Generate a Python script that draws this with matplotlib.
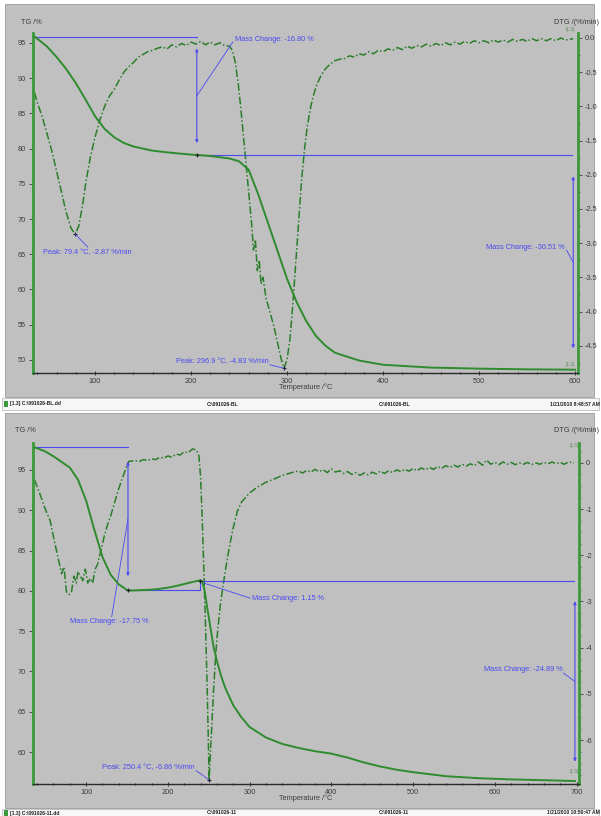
import matplotlib
matplotlib.use("Agg")
import matplotlib.pyplot as plt
from matplotlib.patches import Rectangle
from matplotlib.ticker import MultipleLocator, FormatStrFormatter

plt.rcParams['font.family'] = ['Liberation Sans', 'DejaVu Sans']
plt.rcParams['axes.unicode_minus'] = False

# ---------------- data: top run ----------------
top_tg_T = [37, 40, 50, 60, 70, 80, 90, 100, 110, 120, 130, 140, 150, 160, 180, 200, 206,
            220, 240, 250, 260, 270, 280, 290, 300, 310, 320, 330, 340, 350, 375, 400,
            450, 500, 550, 600]
top_tg = [95.9, 95.6, 94.5, 93.0, 91.3, 89.3, 87.0, 84.6, 82.8, 81.6, 80.8, 80.3, 80.0, 79.7,
          79.4, 79.15, 79.1, 78.95, 78.6, 78.2, 77.0, 73.5, 69.5, 65.5, 61.5, 58.2, 55.5,
          53.4, 52.0, 51.0, 49.9, 49.3, 48.9, 48.75, 48.65, 48.6]

top_dtg_T = [37, 40, 45, 50, 55, 60, 65, 70, 75, 79.4, 83, 87, 90, 95, 100, 105, 110, 115,
             120, 125, 130, 135, 140, 145, 150, 155, 160, 165, 170, 175, 180, 185, 190, 195,
             200, 205, 210, 215, 220, 225, 230, 235, 240, 243, 246, 249, 252, 255, 258, 261,
             263, 265, 267, 269, 271, 273, 275, 278, 282, 286, 290, 294, 296.9, 300, 303,
             306, 309, 312, 315, 318, 321, 324, 327, 331, 335, 340, 345, 350, 355,
             360, 365, 370, 375, 380, 385, 390, 395, 400, 405, 410, 415, 420, 425, 430, 435,
             440, 445, 450, 455, 460, 465, 470, 475, 480, 485, 490, 495, 500, 505, 510, 515,
             520, 525, 530, 535, 540, 545, 550, 555, 560, 565, 570, 575, 580, 585, 590, 598]
top_dtg = [-0.80, -0.95, -1.15, -1.40, -1.65, -1.95, -2.25, -2.55, -2.78, -2.87, -2.75, -2.45,
           -2.15, -1.75, -1.45, -1.20, -1.00, -0.85, -0.75, -0.62, -0.50, -0.42, -0.36, -0.28,
           -0.24, -0.20, -0.18, -0.15, -0.13, -0.16, -0.10, -0.13, -0.08, -0.11, -0.06, -0.09,
           -0.05, -0.10, -0.06, -0.10, -0.07, -0.11, -0.12, -0.18, -0.35, -0.65, -1.05, -1.50,
           -1.95, -2.40, -2.70, -3.10, -2.95, -3.40, -3.25, -3.60, -3.50, -3.80, -4.00, -4.20,
           -4.45, -4.70, -4.83, -4.70, -4.40, -3.90, -3.30, -2.70, -2.10, -1.65, -1.30, -1.05,
           -0.86, -0.68, -0.56, -0.45, -0.38, -0.33, -0.31,
           -0.30, -0.26, -0.28, -0.23, -0.25, -0.20, -0.23, -0.18, -0.20, -0.16, -0.18, -0.14,
           -0.17, -0.12, -0.15, -0.11, -0.13, -0.09, -0.12, -0.08, -0.11, -0.07, -0.10, -0.06,
           -0.09, -0.05, -0.08, -0.04, -0.07, -0.04, -0.07, -0.03, -0.06, -0.03, -0.06, -0.02,
           -0.05, -0.02, -0.05, -0.01, -0.04, -0.01, -0.04, -0.01, -0.04, 0.00, -0.03, -0.01]

top_peaks_T = [79.4, 296.9]
top_peaks_dtg = [-2.87, -4.83]
top_mass_changes = [-16.80, -30.51]
top_step_T = [37, 206, 598]

# ---------------- data: bottom run ----------------
bot_tg_T = [37, 40, 50, 60, 70, 80, 90, 100, 110, 120, 130, 140, 151, 160, 170, 180, 190,
            200, 210, 220, 230, 239, 242, 245, 248, 252, 256, 260, 265, 270, 280, 290, 300,
            320, 340, 360, 380, 400, 420, 440, 460, 480, 500, 540, 580, 620, 660, 698]
bot_tg = [97.8, 97.7, 97.3, 96.7, 96.0, 95.3, 93.8, 91.2, 87.6, 84.2, 82.0, 80.8, 80.05,
          80.05, 80.1, 80.15, 80.25, 80.4, 80.6, 80.85, 81.1, 81.3, 81.2, 80.0, 78.0, 75.5,
          73.0, 71.3, 69.5, 68.0, 65.8, 64.3, 63.1, 61.8, 61.0, 60.5, 60.1, 59.8, 59.3, 58.7,
          58.2, 57.8, 57.5, 57.0, 56.75, 56.6, 56.5, 56.4]

bot_dtg_T = [37, 45, 50, 56, 60, 65, 70, 73, 76, 79, 82, 85, 88, 90, 93, 96, 99, 102, 105,
             108, 111, 114, 118, 122, 126, 130, 135, 140, 145, 150, 152, 160, 165, 170, 175,
             180, 185, 190, 195, 200, 205, 210, 215, 220, 225, 230, 235, 238, 240, 242, 244,
             246, 248, 249.5, 250.4, 252, 254, 256, 258, 260, 264, 268, 272, 276, 280, 285,
             290, 300, 310, 320, 330, 340, 350, 355,
             360, 365, 370, 375, 380, 385, 390, 395, 400, 405, 410, 415, 420, 425, 430, 435,
             440, 445, 450, 455, 460, 465, 470, 475, 480, 485, 490, 495, 500, 505, 510, 515,
             520, 525, 530, 535, 540, 545, 550, 555, 560, 565, 570, 575, 580, 585, 590, 595,
             600, 605, 610, 615, 620, 625, 630, 635, 640, 645, 650, 655, 660, 665, 670, 675,
             680, 685, 690, 697]
bot_dtg = [-0.37, -0.75, -1.00, -1.25, -1.60, -2.00, -2.40, -2.25, -2.80, -2.85, -2.80, -2.45,
           -2.60, -2.35, -2.45, -2.55, -2.30, -2.60, -2.50, -2.60, -2.30, -2.20, -1.90, -1.60,
           -1.35, -1.15, -0.85, -0.55, -0.30, -0.05, 0.03, 0.05, 0.03, 0.07, 0.05, 0.09, 0.07,
           0.12, 0.10, 0.15, 0.12, 0.19, 0.17, 0.24, 0.22, 0.30, 0.28, 0.15, -0.30, -1.20,
           -2.30, -3.50, -4.80, -6.00, -6.86, -6.30, -5.60, -4.90, -4.30, -3.80, -3.10, -2.60,
           -2.15, -1.75, -1.40, -1.05, -0.85, -0.65, -0.52, -0.42, -0.35, -0.27, -0.22, -0.19,
           -0.18, -0.22, -0.16, -0.20, -0.14, -0.19, -0.15, -0.21, -0.13, -0.20, -0.17, -0.23,
           -0.19, -0.25, -0.21, -0.27, -0.22, -0.26, -0.20, -0.24, -0.18, -0.23, -0.17, -0.21,
           -0.15, -0.19, -0.14, -0.18, -0.12, -0.17, -0.11, -0.15, -0.10, -0.14, -0.08, -0.12,
           -0.06, -0.10, -0.05, -0.09, -0.03, -0.07, -0.02, -0.06, 0.02, -0.05, 0.06, -0.03,
           0.01, -0.04, 0.02, -0.03, 0.01, -0.04, 0.00, -0.03, 0.01, -0.04, 0.00, -0.03,
           0.01, -0.02, 0.02, -0.02, 0.01, -0.03, 0.02, 0.00]

bot_peaks_T = [250.4]
bot_peaks_dtg = [-6.86]
bot_mass_changes = [-17.75, 1.15, -24.89]
bot_step_T = [37, 151.2, 239.3, 698]

# ---------------- styling ----------------
W, H = 601, 816
fig = plt.figure(figsize=(W / 100, H / 100), dpi=100, facecolor='white')

def fx(px):
    return px / W

def fy(py):
    return 1 - py / H

PANEL = '#c0c0c0'
GREEN_SP = '#3a9a3a'
GREEN_TG = '#2e8b2e'
GREEN_DTG = '#2a7d2a'
BLUE = '#4a4af2'
TXT = '#3c3c3c'
FS = 5.3

for (y0, y1) in [(4, 397), (413, 808)]:
    fig.patches.append(Rectangle((fx(5), fy(y1)), fx(594) - fx(5), fy(y0) - fy(y1),
                                 transform=fig.transFigure, facecolor=PANEL,
                                 edgecolor='#9a9a9a', lw=0.6, zorder=-2))
for (y0, y1) in [(398, 410), (809, 816)]:
    fig.patches.append(Rectangle((fx(2), fy(y1)), fx(599) - fx(2), fy(y0) - fy(y1),
                                 transform=fig.transFigure, facecolor='#f7f7f7',
                                 edgecolor='#b0b0b0', lw=0.5, zorder=-2))


def make_panel(px_box, xlim, tg_lim, dtg_lim, dtg_major, dtg_minor, dtg_fmt):
    x0, y0, x1, y1 = px_box
    ax = fig.add_axes([fx(x0), fy(y1), fx(x1) - fx(x0), fy(y0) - fy(y1)])
    ax.set_facecolor(PANEL)
    ax2 = ax.twinx()
    ax.set_zorder(ax2.get_zorder() + 1)
    ax.patch.set_visible(False)
    ax2.patch.set_facecolor(PANEL)
    ax2.patch.set_visible(True)
    for s in ['top', 'right']:
        ax.spines[s].set_visible(False)
    for s in ['top', 'left', 'bottom']:
        ax2.spines[s].set_visible(False)
    ax.spines['left'].set_color(GREEN_SP)
    ax.spines['left'].set_linewidth(2.0)
    ax2.spines['right'].set_color(GREEN_SP)
    ax2.spines['right'].set_linewidth(2.0)
    ax.spines['bottom'].set_color('#2a2a2a')
    ax.spines['bottom'].set_linewidth(1.0)
    ax.set_xlim(*xlim)
    ax.set_ylim(*tg_lim)
    ax2.set_ylim(*dtg_lim)
    ax.xaxis.set_major_locator(MultipleLocator(100))
    ax.xaxis.set_minor_locator(MultipleLocator(20))
    ax.yaxis.set_major_locator(MultipleLocator(5))
    ax2.yaxis.set_major_locator(MultipleLocator(dtg_major))
    ax2.yaxis.set_minor_locator(MultipleLocator(dtg_minor))
    ax2.yaxis.set_major_formatter(FormatStrFormatter(dtg_fmt))
    ax.tick_params(axis='x', which='major', direction='inout', length=3, width=0.8,
                   colors=TXT, labelsize=FS, pad=2)
    ax.tick_params(axis='x', which='minor', direction='inout', length=2, width=0.8,
                   colors='#2a2a2a')
    ax.tick_params(axis='y', which='major', direction='out', length=3, width=0.6,
                   colors=TXT, labelsize=FS, pad=2)
    ax2.tick_params(axis='y', which='major', direction='out', length=3, width=0.6,
                    colors=TXT, labelsize=FS, pad=2)
    ax2.tick_params(axis='y', which='minor', direction='out', length=1.5, width=0.5,
                    colors=TXT)
    ax.set_xlabel('Temperature /°C', fontsize=FS, color=TXT, labelpad=-1)
    return ax, ax2


def blue_line(ax, xs, ys):
    ax.plot(xs, ys, color=BLUE, lw=0.8, zorder=3)


def mass_arrow(ax, T, lev_a, lev_b):
    span = lev_a - lev_b
    ax.annotate('', xy=(T, lev_b + 0.1 * span), xytext=(T, lev_a - 0.1 * span),
                arrowprops=dict(arrowstyle='<|-|>', color=BLUE, lw=0.8,
                                mutation_scale=4, shrinkA=0, shrinkB=0), zorder=4)
    return (lev_a + lev_b) / 2


def marker(ax, x, y):
    ax.plot([x], [y], marker='+', color='#202020', ms=3, mew=0.8, zorder=6)


# ================= TOP PANEL =================
axA, axA2 = make_panel((33, 33, 578, 373), (35.4, 603), (48.13, 96.42), (-4.898, 0.073),
                       0.5, 0.25, '%.1f')
axA.plot(top_tg_T, top_tg, color=GREEN_TG, lw=1.4, zorder=5)
axA2.plot(top_dtg_T, top_dtg, color=GREEN_DTG, lw=1.1, dashes=(5, 1.5, 1, 1.5), zorder=2)

lev0 = top_tg[0]
lev1 = lev0 + top_mass_changes[0]
lev2 = lev1 + top_mass_changes[1]
blue_line(axA, [top_step_T[0], top_step_T[1]], [lev0, lev0])
blue_line(axA, [top_step_T[1], top_step_T[2] - 1], [lev1, lev1])
marker(axA, top_step_T[1], lev1)
mid = mass_arrow(axA, top_step_T[1], lev0, lev1)
axA.plot([top_step_T[1], 243.5], [mid, 95.14], color=BLUE, lw=0.6, zorder=4)
axA.text(245.6, 95.55, 'Mass Change: %.2f %%' % top_mass_changes[0], color=BLUE,
         fontsize=FS, va='center', ha='left')
mid = mass_arrow(axA, top_step_T[2], lev1, lev2)
axA.plot([top_step_T[2], 591], [mid, 65.6], color=BLUE, lw=0.6, zorder=4)
axA.text(589, 66.0, 'Mass Change: %.2f %%' % top_mass_changes[1], color=BLUE,
         fontsize=FS, va='center', ha='right')

peak_text_pos = [(45.8, 65.3), (184.2, 49.8)]
peak_leader_end = [(92.6, 66.0), (282.0, 49.3)]
for (pt, pv, tpos, lend) in zip(top_peaks_T, top_peaks_dtg, peak_text_pos, peak_leader_end):
    marker(axA2, pt, pv)
    axA.annotate('', xy=(pt, pv), xycoords=axA2.transData, xytext=lend,
                 textcoords=axA.transData,
                 arrowprops=dict(arrowstyle='-', color=BLUE, lw=0.6, shrinkA=0, shrinkB=0))
    axA.text(tpos[0], tpos[1], 'Peak: %.1f °C, %.2f %%/min' % (pt, pv), color=BLUE,
             fontsize=FS, va='center', ha='left')

axA.text(595.7, 96.85, '(1:3)', color='#5a8f5a', fontsize=3.3, ha='center', va='center',
         clip_on=False)
axA.text(595.7, 49.3, '(1:3)', color='#5a8f5a', fontsize=3.3, ha='center', va='center',
         clip_on=False)

fig.text(fx(21), fy(22), 'TG /%', fontsize=FS, color=TXT, ha='left', va='center')
fig.text(fx(599), fy(22), 'DTG /(%/min)', fontsize=FS, color=TXT, ha='right', va='center')

# ================= BOTTOM PANEL =================
axB, axB2 = make_panel((33, 443, 579, 784), (35, 703), (56.03, 98.35), (-6.95, 0.43),
                       1, 0.25, '%d')
axB.plot(bot_tg_T, bot_tg, color=GREEN_TG, lw=1.4, zorder=5)
axB2.plot(bot_dtg_T, bot_dtg, color=GREEN_DTG, lw=1.1, dashes=(5, 1.5, 1, 1.5), zorder=2)

b0 = bot_tg[0]
b1 = b0 + bot_mass_changes[0]
b2 = b1 + bot_mass_changes[1]
b3 = b2 + bot_mass_changes[2]
blue_line(axB, [bot_step_T[0], bot_step_T[1]], [b0, b0])
blue_line(axB, [bot_step_T[1], bot_step_T[2], bot_step_T[2]], [b1, b1, b2])
blue_line(axB, [bot_step_T[2], bot_step_T[3] - 1], [b2, b2])
marker(axB, bot_step_T[1], b1)
marker(axB, bot_step_T[2], b2)
mid = mass_arrow(axB, bot_step_T[1], b0, b1)
axB.plot([bot_step_T[1], 131.3], [mid, 76.8], color=BLUE, lw=0.6, zorder=4)
axB.text(80.3, 76.2, 'Mass Change: %.2f %%' % bot_mass_changes[0], color=BLUE,
         fontsize=FS, va='center', ha='left')
axB.plot([243, 300.5], [81.0, 79.1], color=BLUE, lw=0.6, zorder=4)
axB.text(303, 79.0, 'Mass Change: %.2f %%' % bot_mass_changes[1], color=BLUE,
         fontsize=FS, va='center', ha='left')
mid = mass_arrow(axB, bot_step_T[3], b2, b3)
axB.plot([bot_step_T[3], 684], [mid, 69.8], color=BLUE, lw=0.6, zorder=4)
axB.text(683.4, 70.2, 'Mass Change: %.2f %%' % bot_mass_changes[2], color=BLUE,
         fontsize=FS, va='center', ha='right')

for (pt, pv) in zip(bot_peaks_T, bot_peaks_dtg):
    marker(axB2, pt, pv)
    axB.annotate('', xy=(pt, pv), xycoords=axB2.transData, xytext=(234.4, 57.7),
                 textcoords=axB.transData,
                 arrowprops=dict(arrowstyle='-', color=BLUE, lw=0.6, shrinkA=0, shrinkB=0))
    axB.text(232.5, 58.1, 'Peak: %.1f °C, %.2f %%/min' % (pt, pv), color=BLUE,
             fontsize=FS, va='center', ha='right')

axB.text(697, 98.0, '(1:3)', color='#5a8f5a', fontsize=3.3, ha='center', va='center',
         clip_on=False)
axB.text(697, 57.6, '(1:3)', color='#5a8f5a', fontsize=3.3, ha='center', va='center',
         clip_on=False)

fig.text(fx(15), fy(430), 'TG /%', fontsize=FS, color=TXT, ha='left', va='center')
fig.text(fx(599), fy(430), 'DTG /(%/min)', fontsize=FS, color=TXT, ha='right', va='center')

# ================= status bars =================
for yb, name, stamp in [(404, '091026-BL', '1/21/2010 8:48:57 AM'),
                        (813, '091026-11', '1/21/2010 10:50:47 AM')]:
    fig.patches.append(Rectangle((fx(4), fy(yb + 3)), fx(4), fy(yb - 3) - fy(yb + 3),
                                 transform=fig.transFigure, facecolor='#3a9a3a',
                                 edgecolor='none', zorder=1))
    fig.text(fx(10), fy(yb), '[1.3] C:\\%s.dd' % name, fontsize=3.6, color='#202020',
             ha='left', va='center', weight='bold')
    fig.text(fx(207), fy(yb), 'C:\\%s' % name, fontsize=3.6, color='#202020',
             ha='left', va='center', weight='bold')
    fig.text(fx(379), fy(yb), 'C:\\%s' % name, fontsize=3.6, color='#202020',
             ha='left', va='center', weight='bold')
    fig.text(fx(600), fy(yb), stamp, fontsize=3.6, color='#202020',
             ha='right', va='center', weight='bold')

fig.savefig('out.png', dpi=100, facecolor='white')
